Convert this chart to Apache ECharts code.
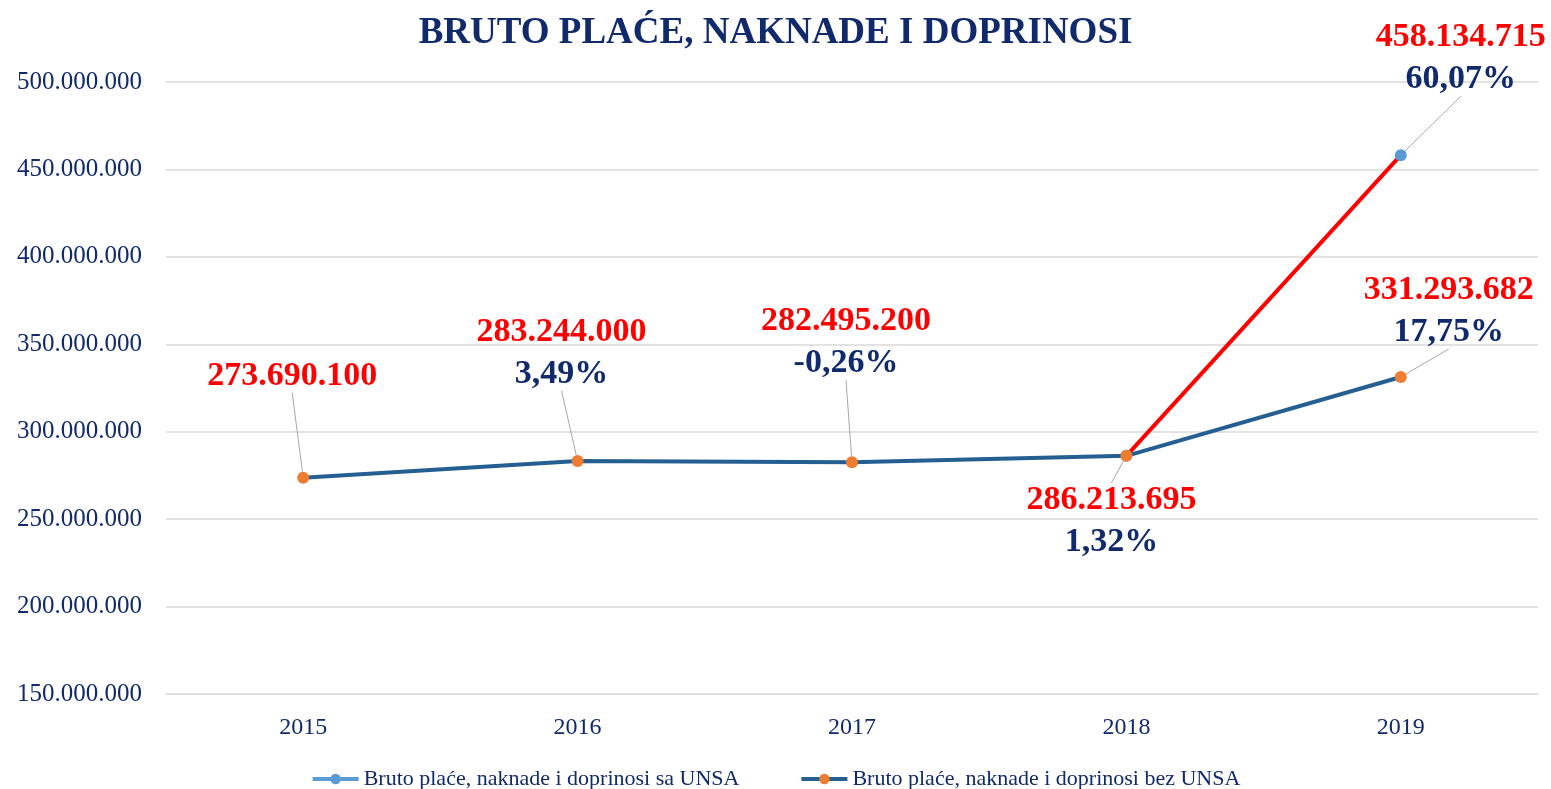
<!DOCTYPE html>
<html>
<head>
<meta charset="utf-8">
<style>
  html, body { margin: 0; padding: 0; background: #fff; }
  #main { width: 1551px; height: 789px; }
</style>
<script src="https://cdn.jsdelivr.net/npm/echarts@6/dist/echarts.min.js"></script>
</head>
<body>
<div id="main"></div>
<script>
(function () {
var myChart = echarts.init(document.getElementById('main'));

// podaci
var years = ['2015', '2016', '2017', '2018', '2019'];
var saUnsa = [null, null, null, 286213695, 458134715];
var bezUnsa = [273690100, 283244000, 282495200, 286213695, 331293682];
var rastSa = [null, null, null, null, '60,07%'];
var rastBez = [null, '3,49%', '-0,26%', '1,32%', '17,75%'];

// pomak oznaka od tačke (centar oznake)
var pomakSa = [null, null, null, null, [60, -97]];
var pomakBez = [[-11, -102], [-16, -108], [-6, -120], [-15, 65], [48, -66]];

var navy = '#102A6B';
var font = '"Liberation Serif", "DejaVu Serif", serif';

function fmt(v) {
  return String(v).replace(/\B(?=(\d{3})+(?!\d))/g, '.');
}

function labelFmt(rast) {
  return function (p) {
    var r = rast[p.dataIndex];
    return '{v|' + fmt(p.value) + '}' + (r ? '\n{p|' + r + '}' : '');
  };
}

var rich = {
  v: { color: '#FF0000', fontSize: 34, fontWeight: 'bold', fontFamily: font, lineHeight: 42 },
  p: { color: navy, fontSize: 34, fontWeight: 'bold', fontFamily: font, lineHeight: 42 }
};

option = {
  title: {
    text: 'BRUTO PLAĆE, NAKNADE I DOPRINOSI',
    left: 'center',
    top: 10,
    textStyle: { color: navy, fontSize: 37, fontWeight: 'bold', fontFamily: font }
  },
  legend: {
    top: 763,
    left: 'center',
    itemGap: 60,
    itemWidth: 46,
    itemHeight: 13,
    textStyle: { color: navy, fontSize: 22, fontFamily: font },
    data: [
      { name: 'Bruto plaće, naknade i doprinosi sa UNSA', lineStyle: { color: '#5B9BD5', width: 4 } },
      { name: 'Bruto plaće, naknade i doprinosi bez UNSA', lineStyle: { width: 4 } }
    ]
  },
  grid: { left: 166, top: 82, width: 1372, height: 612, containLabel: false },
  xAxis: {
    type: 'category',
    data: years,
    boundaryGap: true,
    axisLine: { lineStyle: { color: '#D9D9D9' } },
    axisTick: { show: false },
    axisLabel: { color: navy, fontSize: 24, fontFamily: font, margin: 22 }
  },
  yAxis: {
    type: 'value',
    min: 150000000,
    max: 500000000,
    interval: 50000000,
    axisLine: { show: false },
    axisTick: { show: false },
    splitLine: { lineStyle: { color: '#D9D9D9', width: 1.5 } },
    axisLabel: { color: navy, fontSize: 25, fontFamily: font, margin: 24, formatter: fmt }
  },
  series: [
    {
      name: 'Bruto plaće, naknade i doprinosi sa UNSA',
      type: 'line',
      data: saUnsa,
      z: 2,
      symbol: 'circle',
      symbolSize: 12,
      itemStyle: { color: '#5B9BD5' },
      lineStyle: { color: '#FF0000', width: 4 },
      label: {
        show: true,
        position: 'inside',
        formatter: function (p) { return p.dataIndex === 4 ? labelFmt(rastSa)(p) : ''; },
        rich: rich
      },
      labelLine: { show: true, lineStyle: { color: '#A6A6A6', width: 1 } },
      labelLayout: function (p) {
        var o = pomakSa[p.dataIndex];
        return o ? { dx: o[0], dy: o[1] } : {};
      }
    },
    {
      name: 'Bruto plaće, naknade i doprinosi bez UNSA',
      type: 'line',
      data: bezUnsa,
      z: 3,
      symbol: 'circle',
      symbolSize: 12,
      itemStyle: { color: '#ED7D31' },
      lineStyle: { color: '#255E91', width: 4 },
      label: {
        show: true,
        position: 'inside',
        formatter: labelFmt(rastBez),
        rich: rich
      },
      labelLine: { show: true, lineStyle: { color: '#A6A6A6', width: 1 } },
      labelLayout: function (p) {
        var o = pomakBez[p.dataIndex];
        return { dx: o[0], dy: o[1] };
      }
    }
  ]
};

myChart.setOption(option);

window.addEventListener('resize', function () {
  myChart.resize();
});
})();
</script>
</body>
</html>
